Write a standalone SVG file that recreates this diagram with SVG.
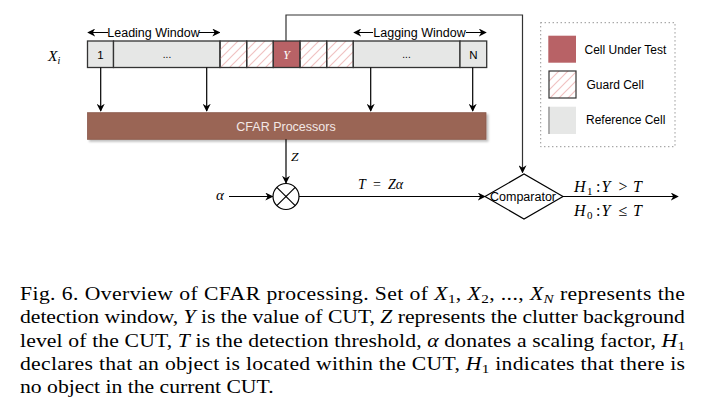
<svg xmlns="http://www.w3.org/2000/svg" width="720" height="412" viewBox="0 0 720 412">
<defs>
<pattern id="hatch" patternUnits="userSpaceOnUse" width="9" height="9">
<path d="M0,9 L9,0 M-2,2 L2,-2 M7,11 L11,7" stroke="#f0c2c2" stroke-width="1.2"/>
</pattern>
<marker id="arr" viewBox="0 0 10 10" refX="9" refY="5" markerWidth="8" markerHeight="8" markerUnits="userSpaceOnUse" orient="auto-start-reverse">
<path d="M0,0 L10,5 L0,10 L3,5 Z" fill="#000"/>
</marker>
<filter id="sh" x="-5%" y="-20%" width="110%" height="150%">
<feDropShadow dx="2" dy="2" stdDeviation="1" flood-color="#000" flood-opacity="0.25"/>
</filter>
</defs>
<style>
.ref{fill:#e6e7e6;stroke:#333;stroke-width:1.3}
.grd{fill:url(#hatch);stroke:#333;stroke-width:1.3}
.cut{fill:#b86266;stroke:#333;stroke-width:1.3}
.sans{font-family:"Liberation Sans",Arial,sans-serif;fill:#000}
.math{font-family:"Liberation Serif","Times New Roman",serif;font-style:italic;fill:#000}
.up{font-style:normal}
.ln{fill:none;stroke:#000;stroke-width:1.2}
.cap{font-family:"Liberation Serif","Times New Roman",serif;font-size:18.6px;fill:#000}
.it{font-style:italic}
</style>
<rect width="720" height="412" fill="#fff"/>

<g id="xi-label"><text class="math" x="48" y="61" font-size="15.5">X<tspan font-size="10" dy="3">i</tspan></text></g>

<g id="cells">
<rect class="ref" x="87.5" y="41" width="26" height="26.5"/>
<text class="sans" x="100.5" y="58.5" font-size="11.5" text-anchor="middle">1</text>
<rect class="ref" x="113.5" y="41" width="106.5" height="26.5"/>
<text class="sans" x="167" y="58" font-size="10" text-anchor="middle">...</text>
<rect class="grd" x="220" y="41" width="26.7" height="26.5"/>
<rect class="grd" x="246.7" y="41" width="26.6" height="26.5"/>
<rect class="cut" x="273.3" y="41" width="26.7" height="26.5"/>
<text class="math" x="286.5" y="58.5" font-size="12" text-anchor="middle" style="fill:#fff">Y</text>
<rect class="grd" x="300" y="41" width="26.7" height="26.5"/>
<rect class="grd" x="326.7" y="41" width="26.6" height="26.5"/>
<rect class="ref" x="353.3" y="41" width="106.7" height="26.5"/>
<text class="sans" x="406.5" y="58" font-size="10" text-anchor="middle">...</text>
<rect class="ref" x="460" y="41" width="26.7" height="26.5"/>
<text class="sans" x="473.3" y="58.5" font-size="11.5" text-anchor="middle">N</text>
</g>

<g id="leading-window">
<line class="ln" x1="88" y1="32.5" x2="108" y2="32.5" marker-start="url(#arr)" style="stroke-width:1"/>
<line class="ln" x1="199" y1="32.5" x2="219.5" y2="32.5" marker-end="url(#arr)" style="stroke-width:1"/>
<text class="sans" x="153.5" y="37" font-size="12.5" text-anchor="middle">Leading Window</text>
</g>

<g id="lagging-window">
<line class="ln" x1="354" y1="32.5" x2="373" y2="32.5" marker-start="url(#arr)" style="stroke-width:1"/>
<line class="ln" x1="466" y1="32.5" x2="486" y2="32.5" marker-end="url(#arr)" style="stroke-width:1"/>
<text class="sans" x="419.5" y="37" font-size="12.5" text-anchor="middle">Lagging Window</text>
</g>

<g id="cfar">
<rect x="87.5" y="112.7" width="398.5" height="26.6" fill="#9a6555" stroke="#8a5a4c" stroke-width="0.8" filter="url(#sh)"/>
<text class="sans" x="286" y="130.5" font-size="12.5" text-anchor="middle" style="fill:#f3e8e5">CFAR Processors</text>
</g>

<g id="multiplier">
<circle cx="286" cy="196.5" r="13" fill="#fff" stroke="#000" stroke-width="1.2"/>
<line x1="276.8" y1="187.3" x2="295.2" y2="205.7" stroke="#000" stroke-width="1.2"/>
<line x1="295.2" y1="187.3" x2="276.8" y2="205.7" stroke="#000" stroke-width="1.2"/>
</g>

<g id="alpha"><text class="math" x="220" y="200" font-size="15" text-anchor="middle">α</text></g>

<g id="comparator">
<polygon points="485,196.5 524,174 563,196.5 524,219" fill="#fff" stroke="#000" stroke-width="1.2"/>
<text class="sans" x="523" y="201" font-size="12.5" text-anchor="middle">Comparator</text>
</g>

<g id="legend">
<rect x="540.7" y="22.7" width="134.3" height="124" fill="none" stroke="#666" stroke-width="1" stroke-dasharray="1,3"/>
<rect x="548.3" y="35.7" width="27.7" height="27" fill="#b86266"/>
<text class="sans" x="584.5" y="53.5" font-size="12">Cell Under Test</text>
<rect x="549" y="71" width="27" height="27" fill="url(#hatch)" stroke="#333" stroke-width="1.2"/>
<text class="sans" x="586.5" y="88.5" font-size="12">Guard Cell</text>
<rect x="548.3" y="106.7" width="27.7" height="27.3" fill="#e6e7e6"/>
<line x1="549" y1="106.7" x2="549" y2="134" stroke="#999" stroke-width="1.5"/>
<text class="sans" x="586" y="124" font-size="12">Reference Cell</text>
</g>

<g id="connectors">
<line class="ln" x1="100.7" y1="67.5" x2="100.7" y2="111" marker-end="url(#arr)"/>
<line class="ln" x1="206.7" y1="67.5" x2="206.7" y2="111" marker-end="url(#arr)"/>
<line class="ln" x1="370.7" y1="67.5" x2="370.7" y2="111" marker-end="url(#arr)"/>
<line class="ln" x1="472.7" y1="67.5" x2="472.7" y2="111" marker-end="url(#arr)"/>
<polyline class="ln" points="286,41 286,15 522.5,15 522.5,172.5" marker-end="url(#arr)" style="stroke:#333"/>
<line class="ln" x1="286" y1="139.3" x2="286" y2="183" marker-end="url(#arr)"/>
<line class="ln" x1="229" y1="196.5" x2="272.5" y2="196.5" marker-end="url(#arr)"/>
<line class="ln" x1="299" y1="196.5" x2="485" y2="196.5" marker-end="url(#arr)"/>
<line class="ln" x1="563" y1="196.5" x2="678" y2="196.5" marker-end="url(#arr)"/>
<text class="math" x="291" y="161" font-size="13.5">Z</text>
<text class="math" font-size="14" y="188.5"><tspan x="358">T</tspan><tspan class="up" x="373">=</tspan><tspan x="388">Zα</tspan></text>
<text class="math" font-size="16" y="192"><tspan x="574">H</tspan><tspan class="up" font-size="11" x="587" dy="3">1</tspan><tspan class="up" x="596" dy="-3">:</tspan><tspan x="601.5">Y</tspan><tspan class="up" x="618.5">&gt;</tspan><tspan x="633">T</tspan></text>
<text class="math" font-size="16" y="216"><tspan x="574">H</tspan><tspan class="up" font-size="11" x="587" dy="3">0</tspan><tspan class="up" x="596" dy="-3">:</tspan><tspan x="601.5">Y</tspan><tspan class="up" x="618.5">≤</tspan><tspan x="633">T</tspan></text>
</g>

<g id="caption" transform="translate(20,0) scale(1.166,1)">
<text class="cap" x="0" y="300" textLength="570.3" lengthAdjust="spacing">Fig. 6.  Overview of CFAR processing. Set of <tspan class="it">X</tspan><tspan font-size="13" dy="3">1</tspan><tspan dy="-3">, </tspan><tspan class="it">X</tspan><tspan font-size="13" dy="3">2</tspan><tspan dy="-3">, ..., </tspan><tspan class="it">X</tspan><tspan font-size="13" class="it" dy="3">N</tspan><tspan dy="-3"> represents the</tspan></text>
<text class="cap" x="0" y="323.3" textLength="570.3" lengthAdjust="spacing">detection window, <tspan class="it">Y</tspan> is the value of CUT, <tspan class="it">Z</tspan> represents the clutter background</text>
<text class="cap" x="0" y="346.7" textLength="570.3" lengthAdjust="spacing">level of the CUT, <tspan class="it">T</tspan> is the detection threshold, <tspan class="it">α</tspan> donates a scaling factor, <tspan class="it">H</tspan><tspan font-size="13" dy="3">1</tspan></text>
<text class="cap" x="0" y="370" textLength="570.3" lengthAdjust="spacing">declares that an object is located within the CUT, <tspan class="it">H</tspan><tspan font-size="13" dy="3">1</tspan><tspan dy="-3"> indicates that there is</tspan></text>
<text class="cap" x="0" y="393.3">no object in the current CUT.</text>
</g>
</svg>
